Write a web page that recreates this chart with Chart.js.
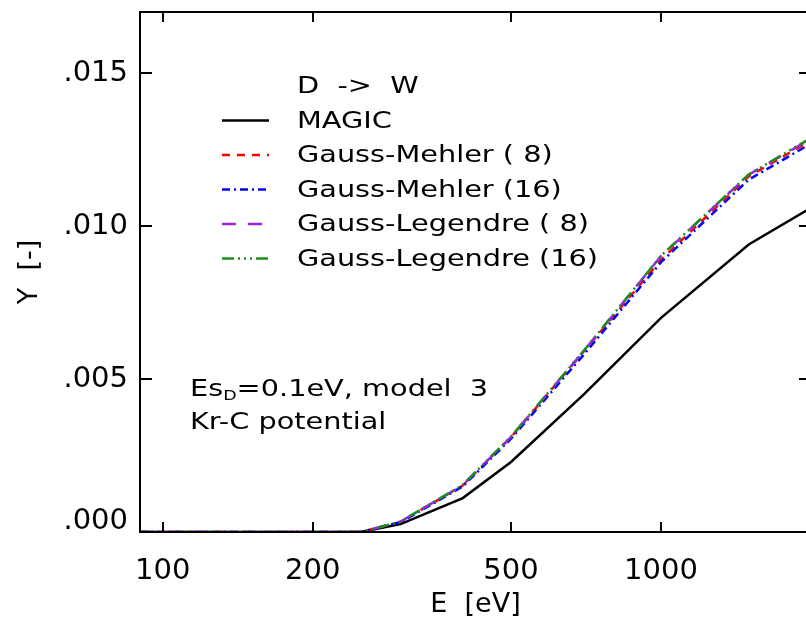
<!DOCTYPE html>
<html>
<head>
<meta charset="utf-8">
<script src="https://cdn.jsdelivr.net/npm/chart.js@4.4.1/dist/chart.umd.min.js"></script>
<style>
html,body{margin:0;padding:0;overflow:hidden;background:#fff;width:806px;height:624px;}
canvas{display:block;}
</style>
</head>
<body>
<canvas id="c" width="816" height="624"></canvas>
<script>
// ---- data ----
const energies = [90, 100, 150, 200, 250, 300, 400, 500, 700, 1000, 1500, 2000];
const magic = [0, 0, 0, 0, 0, 0.00026, 0.00111, 0.00229, 0.0045, 0.0070, 0.0094, 0.0106];
const gaussMehler8 = [0, 0, 0, 0, 0, 0.00033, 0.00152, 0.0031, 0.0059, 0.0089, 0.01163, 0.0128];
const gaussMehler16 = [0, 0, 0, 0, 0, 0.00032, 0.00149, 0.00305, 0.0058, 0.00882, 0.01152, 0.0127];
const gaussLegendre8 = [0, 0, 0, 0, 0, 0.00034, 0.00153, 0.00311, 0.00592, 0.00902, 0.01168, 0.01286];
const gaussLegendre16 = [0, 0, 0, 0, 0, 0.00034, 0.00154, 0.00312, 0.00593, 0.00903, 0.01169, 0.01288];
const xTickValues = [100, 200, 500, 1000];
const yTickValues = [0, 0.005, 0.010, 0.015];
const seriesNames = ['MAGIC', 'Gauss-Mehler ( 8)', 'Gauss-Mehler (16)', 'Gauss-Legendre ( 8)', 'Gauss-Legendre (16)'];
const legendHeader = 'D  ->  W';
const noteLine2 = 'Kr-C potential';

const toPts = arr => arr.map((v, i) => ({x: energies[i], y: v}));
const styles = [
  {c: '#000000', d: []},
  {c: '#ff0000', d: [8, 7]},
  {c: '#0000ff', d: [8, 4, 2, 4]},
  {c: '#a020f0', d: [14, 12]},
  {c: '#1e8c1e', d: [12, 4, 2, 4, 2, 4, 2, 4]}
];
const series = [magic, gaussMehler8, gaussMehler16, gaussLegendre8, gaussLegendre16];
const datasets = series.map((s, i) => ({
  label: seriesNames[i],
  data: toPts(s),
  borderColor: styles[i].c,
  borderDash: styles[i].d,
  borderWidth: 2.5,
  pointRadius: 0,
  tension: 0,
  fill: false,
  order: 5 - i
}));

const FONT = '"DejaVu Sans", sans-serif';

const framePlugin = {
  id: 'frame',
  afterDatasetsDraw(chart) {
    const {ctx, chartArea: a, scales} = chart;
    ctx.save();
    ctx.strokeStyle = '#000';
    ctx.lineWidth = 2;
    ctx.setLineDash([]);
    ctx.strokeRect(a.left, a.top, a.right - a.left, a.bottom - a.top);
    // inward ticks
    ctx.beginPath();
    xTickValues.forEach(v => {
      const x = Math.round(scales.x.getPixelForValue(v));
      ctx.moveTo(x, a.bottom); ctx.lineTo(x, a.bottom - 10);
      ctx.moveTo(x, a.top); ctx.lineTo(x, a.top + 10);
    });
    yTickValues.forEach(v => {
      const y = Math.round(scales.y.getPixelForValue(v));
      ctx.moveTo(a.left, y); ctx.lineTo(a.left + 12, y);
      ctx.moveTo(a.right, y); ctx.lineTo(a.right - 12, y);
    });
    ctx.stroke();

    // legend
    const sx = 1.25;
    const txt = (t, x, y, size) => {
      ctx.save();
      ctx.translate(x, y);
      ctx.scale(sx, 1);
      ctx.font = size + 'px ' + FONT;
      ctx.fillStyle = '#000';
      ctx.textBaseline = 'alphabetic';
      ctx.fillText(t, 0, 0);
      const w = ctx.measureText(t).width * sx;
      ctx.restore();
      return w;
    };
    const tx = 297, base0 = 93, step = 34.5;
    txt(legendHeader, tx, base0, 23);
    chart.data.datasets.forEach((ds, i) => {
      const by = base0 + step * (i + 1);
      const ly = by - 7;
      ctx.save();
      ctx.strokeStyle = ds.borderColor;
      ctx.lineWidth = 2.5;
      ctx.setLineDash(ds.borderDash);
      ctx.beginPath();
      ctx.moveTo(222, ly); ctx.lineTo(269, ly);
      ctx.stroke();
      ctx.restore();
      txt(ds.label, tx, by, 23);
    });

    // annotation
    let x = 190;
    const b1 = 396;
    x += txt('Es', x, b1, 23);
    x += txt('D', x, b1 + 4, 14);
    txt('=0.1eV, model  3', x, b1, 23);
    txt(noteLine2, 190, b1 + 33, 23);
    ctx.restore();
  }
};

new Chart(document.getElementById('c'), {
  type: 'line',
  data: {datasets},
  plugins: [framePlugin],
  options: {
    responsive: false,
    animation: false,
    layout: {padding: {top: 12, right: 5, left: 0, bottom: 0}},
    plugins: {legend: {display: false}, tooltip: {enabled: false}},
    scales: {
      x: {
        type: 'logarithmic',
        min: 90, max: 2000,
        afterBuildTicks: s => { s.ticks = xTickValues.map(v => ({value: v})); },
        afterFit: s => { s.height = 92; s.paddingLeft = 0; s.paddingRight = 0; },
        grid: {display: false, drawTicks: false},
        border: {display: false},
        ticks: {
          autoSkip: false, maxRotation: 0, padding: 22,
          color: '#000', font: {family: FONT, size: 29},
          callback: v => String(v)
        },
        title: {display: true, text: 'E  [eV]', color: '#000', font: {family: FONT, size: 27}, padding: {top: 0, bottom: 3}}
      },
      y: {
        type: 'linear',
        min: 0, max: 0.017,
        afterBuildTicks: s => { s.ticks = yTickValues.map(v => ({value: v})); },
        afterFit: s => { s.width = 140; s.paddingTop = 0; s.paddingBottom = 0; },
        grid: {display: false, drawTicks: false},
        border: {display: false},
        ticks: {
          padding: 12, color: '#000',
          font: c => ({family: FONT, size: 29, lineHeight: (c.tick && c.tick.value === 0) ? 0.7 : 1.2}),
          callback: v => {
            const s = Number(v).toFixed(3).replace(/^0/, '');
            return v === 0 ? [s, ''] : s;
          }
        },
        title: {display: true, text: 'Y  [-]', color: '#000', font: {family: FONT, size: 27}, padding: {top: 14, bottom: 0}}
      }
    }
  }
});
</script>
</body>
</html>
